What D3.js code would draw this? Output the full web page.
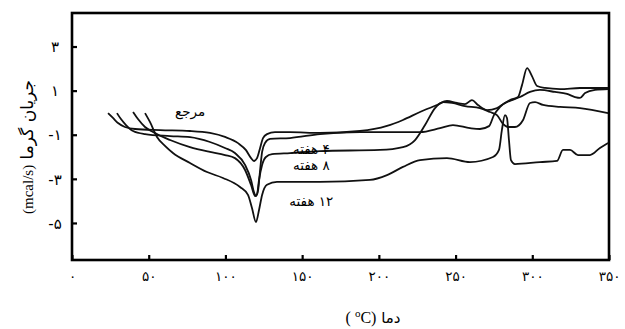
<!DOCTYPE html>
<html><head><meta charset="utf-8">
<script src="https://cdn.jsdelivr.net/npm/d3@7"></script>
<style>body{margin:0;background:#fff}svg{display:block}</style>
</head><body><svg id="c" width="625" height="329"></svg>
<script>
const xTicks=[0,50,100,150,200,250,300,350];
const yTicks=[3,1,-1,-3,-5];
const seriesNames=["مرجع","۴ هفته","۸ هفته","۱۲ هفته"];

const refX=[23.5,26.7,30.0,34.5,41.1,57.4,76.9,89.9,99.7,108.2,113.4,116.7,118.6,120.6,122.6,124.5,127.1,132.3,142.1,161.6,187.7,205.3,215.7,226.8,237.9,244.4,250.9,256.1,260.7,264.6,270.5,277.0,282.2,286.8,292.0,298.5,305.0,314.8,322.6,327.8,331.1,334.4,340.9,349.4];
const refY=[-0.02,-0.24,-0.47,-0.65,-0.74,-0.79,-0.83,-0.92,-1.10,-1.38,-1.70,-2.06,-2.19,-2.06,-1.60,-1.15,-0.97,-0.88,-0.88,-0.92,-0.83,-0.60,-0.33,0.03,0.35,0.53,0.44,0.39,0.57,0.35,0.12,0.21,0.44,0.57,0.71,0.94,1.03,0.94,0.85,0.71,0.67,0.89,1.03,1.07];

const w4X=[29.3,31.9,35.2,39.8,47.6,63.9,76.9,89.9,99.7,106.2,112.8,116.7,118.6,119.9,121.3,122.6,123.9,125.8,129.1,142.1,161.6,187.7,226.8,239.9,248.3,259.4,265.9,271.8,275.0,279.0,285.5,290.7,293.3,296.6,299.8,303.1,308.3,318.1,331.1,349.4];
const w4Y=[-0.02,-0.29,-0.56,-0.83,-0.97,-1.06,-1.11,-1.33,-1.60,-1.83,-2.37,-3.05,-3.60,-3.78,-3.51,-2.60,-1.78,-1.37,-1.19,-1.15,-0.97,-0.88,-0.88,-0.70,-0.56,-0.70,-0.74,-0.61,-0.11,0.26,0.57,0.71,1.25,2.02,1.66,1.21,1.12,1.07,1.12,1.12];

const w8X=[39.8,43.0,47.6,52.8,63.9,76.9,89.9,99.7,106.2,112.8,116.7,119.3,120.6,121.9,123.9,126.4,130.4,142.1,161.6,200.7,215.7,223.6,230.1,236.6,241.8,247.7,256.1,265.9,272.4,277.0,280.9,284.2,288.7,294.0,298.5,301.8,307.0,318.1,331.1,349.4];
const w8Y=[0.03,-0.29,-0.65,-0.88,-1.24,-1.56,-1.78,-1.92,-2.06,-2.60,-3.28,-3.78,-3.69,-3.05,-2.37,-2.01,-1.88,-1.83,-1.74,-1.69,-1.56,-1.24,-0.56,0.21,0.48,0.44,0.30,0.21,0.03,-0.11,-0.51,-0.65,-0.65,-0.33,0.44,0.48,0.35,0.26,0.21,-0.02];

const w12X=[47.6,50.8,55.4,60.6,65.8,76.9,88.0,98.4,109.5,114.7,117.3,119.9,121.9,123.9,127.1,133.6,161.6,194.2,205.3,215.7,226.8,244.4,259.4,274.4,278.3,280.2,282.2,283.5,284.8,286.1,288.7,305.0,316.1,320.0,324.6,329.8,337.6,344.1,349.4];
const w12Y=[-0.02,-0.42,-1.10,-1.51,-1.83,-2.28,-2.69,-2.96,-3.37,-3.73,-4.32,-4.96,-4.41,-3.73,-3.27,-3.14,-3.14,-3.05,-2.83,-2.46,-2.15,-2.06,-2.24,-2.01,-1.69,-0.78,-0.11,-0.24,-1.24,-2.15,-2.33,-2.24,-2.19,-1.69,-1.69,-1.92,-1.92,-1.60,-1.37];

const svg=d3.select("#c");
const x=d3.scaleLinear().domain([0,350]).range([72,609]);
const y=d3.scaleLinear().domain([-6.68,4.52]).range([260,13]);
const fa=v=>String(v).replace(/\d/g,d=>"۰۱۲۳۴۵۶۷۸۹"[+d]);

const gx=svg.append("g").attr("transform","translate(0,260)")
  .call(d3.axisBottom(x).tickValues(xTicks).tickSize(-5).tickPadding(11).tickFormat(fa));
gx.select(".domain").remove();
gx.selectAll("line").attr("stroke","#000").attr("stroke-width",2.2);
gx.selectAll("text").attr("font-family","DejaVu Sans").attr("font-size",13.5).attr("fill","#000");

const gy=svg.append("g").attr("transform","translate(72,0)")
  .call(d3.axisLeft(y).tickValues(yTicks).tickSize(-5).tickFormat(fa));
gy.select(".domain").remove();
gy.selectAll("line").attr("stroke","#000").attr("stroke-width",2.2);
gy.selectAll("text").attr("font-family","DejaVu Sans").attr("font-size",15).attr("fill","#000")
  .attr("text-anchor","middle").attr("x",-17).attr("dy","0.35em");

svg.append("rect").attr("x",72).attr("y",13).attr("width",537).attr("height",247)
  .attr("fill","none").attr("stroke","#000").attr("stroke-width",2.6);

const line=d3.line().x(d=>x(d[0])).y(d=>y(d[1])).curve(d3.curveMonotoneX);
[[refX,refY],[w4X,w4Y],[w8X,w8Y],[w12X,w12Y]].forEach(([xs,ys])=>{
  svg.append("path").datum(d3.zip(xs,ys)).attr("d",line)
    .attr("fill","none").attr("stroke","#111").attr("stroke-width",1.8).attr("stroke-linejoin","round");
});

const labelPos=[[77,0.05],[156,-1.64],[156,-2.38],[156,-4.0]];
seriesNames.forEach((n,i)=>{
  svg.append("text").attr("x",x(labelPos[i][0])).attr("y",y(labelPos[i][1]))
    .attr("direction","rtl").attr("text-anchor","middle").attr("dy","0.35em")
    .attr("font-family","DejaVu Sans").attr("font-size",13.5).attr("fill","#000").text(n);
});

const yt=svg.append("text").attr("transform","translate(27,147) rotate(-90)")
  .attr("text-anchor","middle").attr("dy","0.35em").attr("fill","#000");
yt.append("tspan").attr("font-family","Liberation Serif").attr("font-size",15).text("(mcal/s)");
yt.append("tspan").attr("font-family","DejaVu Sans").attr("font-size",17).text(" جریان گرما");

const xt=svg.append("text").attr("x",373).attr("y",323).attr("text-anchor","middle").attr("fill","#000");
xt.append("tspan").attr("font-family","Liberation Serif").attr("font-size",16).text("( ");
xt.append("tspan").attr("font-family","Liberation Serif").attr("font-size",11).attr("baseline-shift","super").text("o");
xt.append("tspan").attr("font-family","Liberation Serif").attr("font-size",16).text("C)");
xt.append("tspan").attr("font-family","DejaVu Sans").attr("font-size",15).text(" دما");
</script></body></html>
